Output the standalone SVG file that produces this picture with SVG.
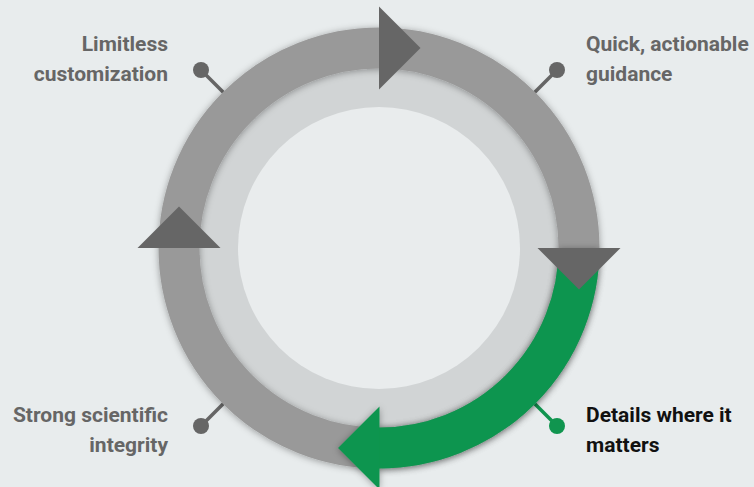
<svg xmlns="http://www.w3.org/2000/svg" width="754" height="487" viewBox="0 0 754 487">
  <defs>
    <filter id="shadow" x="-20%" y="-20%" width="140%" height="140%">
      <feDropShadow dx="0" dy="1" stdDeviation="3.5" flood-color="#000" flood-opacity="0.35"/>
    </filter>
    <style>
      .lbl { font-family: Roboto, "Liberation Sans", sans-serif; font-weight: 700; font-size: 21px; fill: #666666; }
      .lbl.active { fill: #111111; }
      .tri { fill: #666666; }
      .conn { stroke-width: 3.5; fill: none; }
    </style>
  </defs>
  <rect width="754" height="487" fill="#e8eced"/>

  <g id="connectors">
    <line class="conn" x1="231" y1="100" x2="201" y2="70" stroke="#666666"/>
    <line class="conn" x1="527" y1="100" x2="557" y2="70" stroke="#666666"/>
    <line class="conn" x1="231" y1="396" x2="201" y2="426" stroke="#666666"/>
    <line class="conn" x1="527" y1="396" x2="557" y2="426" stroke="#10954f"/>
    <circle cx="201" cy="70" r="8" fill="#666666"/>
    <circle cx="557" cy="70" r="8" fill="#666666"/>
    <circle cx="201" cy="426" r="8" fill="#666666"/>
    <circle cx="557" cy="426" r="8" fill="#10954f"/>
  </g>

  <g id="cycle">
    <circle cx="379" cy="248" r="180" fill="#d1d4d5"/>
    <circle cx="379" cy="248" r="141" fill="#e9eced"/>
    <circle cx="379" cy="248" r="200" fill="none" stroke="#999999" stroke-width="41" filter="url(#shadow)"/>
    <g id="active-arc" filter="url(#shadow)">
      <path d="M 579 248 A 200 200 0 0 1 379 448" fill="none" stroke="#10954f" stroke-width="41"/>
      <polygon points="379.5,406.5 379.5,489.5 338,448" fill="#10954f"/>
    </g>
    <polygon class="tri" points="379,6.5 379,89.5 420.5,48"/>
    <polygon class="tri" points="537.5,248 620.5,248 579,289.5"/>
    <polygon class="tri" points="137.5,248 220.5,248 179,206.5"/>
  </g>

  <g id="node-customization">
    <text class="lbl" x="168" y="51" text-anchor="end">Limitless</text>
    <text class="lbl" x="168" y="81" text-anchor="end">customization</text>
  </g>
  <g id="node-guidance">
    <text class="lbl" x="586" y="51">Quick, actionable</text>
    <text class="lbl" x="586" y="81">guidance</text>
  </g>
  <g id="node-integrity">
    <text class="lbl" x="168" y="422" text-anchor="end">Strong scientific</text>
    <text class="lbl" x="168" y="452" text-anchor="end">integrity</text>
  </g>
  <g id="node-details">
    <text class="lbl active" x="586" y="422">Details where it</text>
    <text class="lbl active" x="586" y="452">matters</text>
  </g>
</svg>
